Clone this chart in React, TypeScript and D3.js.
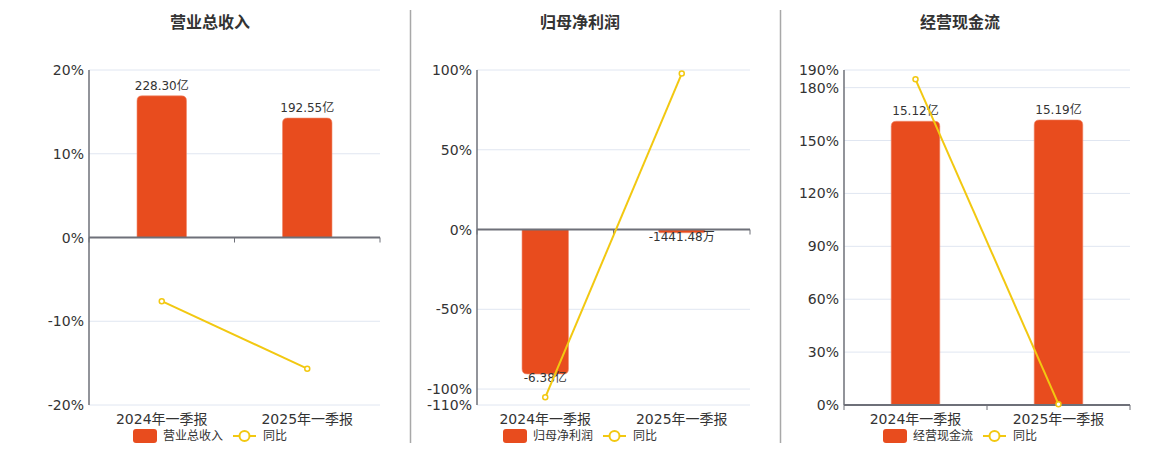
import * as d3 from 'd3';

// shared
const categories = ['2024年一季报', '2025年一季报'];

// 营业总收入 (亿)
const revenue = [228.3, 192.55];
const revenueLabels = ['228.30亿', '192.55亿'];
const revenueYoy = [-7.6, -15.66];

// 归母净利润 (亿)
const netProfit = [-6.38, -0.1441];
const netProfitLabels = ['-6.38亿', '-1441.48万'];
const netProfitYoy = [-105.2, 97.74];

// 经营现金流 (亿)
const cashFlow = [15.12, 15.19];
const cashFlowLabels = ['15.12亿', '15.19亿'];
const cashFlowYoy = [184.7, 0.46];

const pctTicks1 = [-20, -10, 0, 10, 20];
const pctTicks2 = [-110, -100, -50, 0, 50, 100];
const pctTicks3 = [0, 30, 60, 90, 120, 150, 180, 190];

const color = {
  bar: '#E84C1E',
  line: '#F2C811',
  axis: '#6E7079',
  grid: '#E0E6F1',
  text: '#333333',
  sep: '#A8A8A8',
};
const font = '"DejaVu Sans", "Noto Sans CJK SC", sans-serif';

type Panel = {
  title: string;
  cx: number;
  x0: number;
  x1: number;
  pctDomain: [number, number];
  barDomain: [number, number];
  ticks: number[];
  values: number[];
  labels: string[];
  yoy: number[];
};

const panels: Panel[] = [
  { title: '营业总收入', cx: 210, x0: 89, x1: 380, pctDomain: [-20, 20], barDomain: [-270, 270], ticks: pctTicks1, values: revenue, labels: revenueLabels, yoy: revenueYoy },
  { title: '归母净利润', cx: 580, x0: 477, x1: 750, pctDomain: [-110, 100], barDomain: [-7.75, 7.04], ticks: pctTicks2, values: netProfit, labels: netProfitLabels, yoy: netProfitYoy },
  { title: '经营现金流', cx: 960, x0: 844, x1: 1130, pctDomain: [0, 190], barDomain: [0, 17.85], ticks: pctTicks3, values: cashFlow, labels: cashFlowLabels, yoy: cashFlowYoy },
];

const TOP = 70;
const BOTTOM = 405;

function barPath(x: number, w: number, y0: number, y1: number, r: number) {
  // rounded corners on the end away from zero
  const h = Math.abs(y1 - y0);
  const rr = Math.min(r, h / 2, w / 2);
  if (y1 <= y0) {
    return `M${x},${y0}V${y1 + rr}Q${x},${y1} ${x + rr},${y1}H${x + w - rr}Q${x + w},${y1} ${x + w},${y1 + rr}V${y0}Z`;
  }
  return `M${x},${y0}V${y1 - rr}Q${x},${y1} ${x + rr},${y1}H${x + w - rr}Q${x + w},${y1} ${x + w},${y1 - rr}V${y0}Z`;
}

function PanelChart({ p }: { p: Panel }) {
  const x = d3.scaleBand().domain(categories).range([p.x0, p.x1]);
  const y = d3.scaleLinear().domain(p.pctDomain).range([BOTTOM, TOP]);
  const yb = d3.scaleLinear().domain(p.barDomain).range([BOTTOM, TOP]);
  const zero = y(0);
  const bw = x.bandwidth() * 0.34;
  const line = d3.line<number>()
    .x((_, i) => x(categories[i])! + x.bandwidth() / 2)
    .y((d) => y(d));

  return (
    <g>
      <text x={p.cx} y={23} textAnchor="middle" dominantBaseline="middle" fontSize={16} fontWeight={700} fill={color.text}>
        {p.title}
      </text>

      {p.ticks.map((t) => (
        <g key={t}>
          <line x1={p.x0} x2={p.x1} y1={y(t)} y2={y(t)} stroke={color.grid} strokeWidth={1} />
          <text x={p.x0 - 5} y={y(t) + 1} textAnchor="end" dominantBaseline="middle" fontSize={14} fill={color.text}>
            {t}%
          </text>
        </g>
      ))}

      {/* y axis line */}
      <line x1={p.x0} x2={p.x0} y1={TOP} y2={BOTTOM} stroke={color.axis} strokeWidth={1.5} />

      {/* bars */}
      {p.values.map((v, i) => {
        const cxb = x(categories[i])! + x.bandwidth() / 2;
        const yv = yb(v);
        return (
          <path key={i} d={barPath(cxb - bw / 2, bw, yb(0), yv, 5)} fill={color.bar} stroke="#F08A6C" strokeWidth={0.6} />
        );
      })}

      {/* x axis at zero */}
      <line x1={p.x0} x2={p.x1} y1={zero} y2={zero} stroke={color.axis} strokeWidth={2} />
      {[...categories.map((c) => x(c)!), p.x1].map((tx, i) => (
        <line key={i} x1={tx} x2={tx} y1={zero} y2={zero + 5} stroke={color.axis} strokeWidth={1} />
      ))}

      {/* bar labels */}
      {p.values.map((v, i) => {
        const cxb = x(categories[i])! + x.bandwidth() / 2;
        const yv = yb(v);
        const neg = v < 0;
        return (
          <text key={i} x={cxb} y={neg ? yv - 1 : yv - 6} textAnchor="middle" dominantBaseline={neg ? 'hanging' : 'auto'} fontSize={12} fill={color.text}>
            {p.labels[i]}
          </text>
        );
      })}

      {/* yoy line */}
      <path d={line(p.yoy)!} fill="none" stroke={color.line} strokeWidth={2} />
      {p.yoy.map((v, i) => (
        <circle key={i} cx={x(categories[i])! + x.bandwidth() / 2} cy={y(v)} r={2.5} fill="#fff" stroke={color.line} strokeWidth={1.5} />
      ))}

      {/* category labels */}
      {categories.map((c) => (
        <text key={c} x={x(c)! + x.bandwidth() / 2} y={420} textAnchor="middle" dominantBaseline="middle" fontSize={14} fill={color.text}>
          {c}
        </text>
      ))}

      {/* legend */}
      <rect x={p.cx - 77} y={429} width={24} height={14} rx={3} fill={color.bar} />
      <text x={p.cx - 47} y={436.5} dominantBaseline="middle" fontSize={12} fill={color.text}>
        {p.title}
      </text>
      <line x1={p.cx + 23} x2={p.cx + 46} y1={436} y2={436} stroke={color.line} strokeWidth={2} />
      <circle cx={p.cx + 34.5} cy={436} r={5} fill="#fff" stroke={color.line} strokeWidth={2} />
      <text x={p.cx + 53} y={436.5} dominantBaseline="middle" fontSize={12} fill={color.text}>
        同比
      </text>
    </g>
  );
}

export default function App() {
  return (
    <svg
      width={1160}
      height={450}
      style={{ position: 'absolute', left: 0, top: 0, background: '#fff' }}
      fontFamily={font}
    >
      <rect width={1160} height={450} fill="#fff" />
      <line x1={410.5} x2={410.5} y1={10} y2={443} stroke={color.sep} strokeWidth={1.5} />
      <line x1={780.5} x2={780.5} y1={10} y2={443} stroke={color.sep} strokeWidth={1.5} />
      {panels.map((p) => (
        <PanelChart key={p.title} p={p} />
      ))}
    </svg>
  );
}
